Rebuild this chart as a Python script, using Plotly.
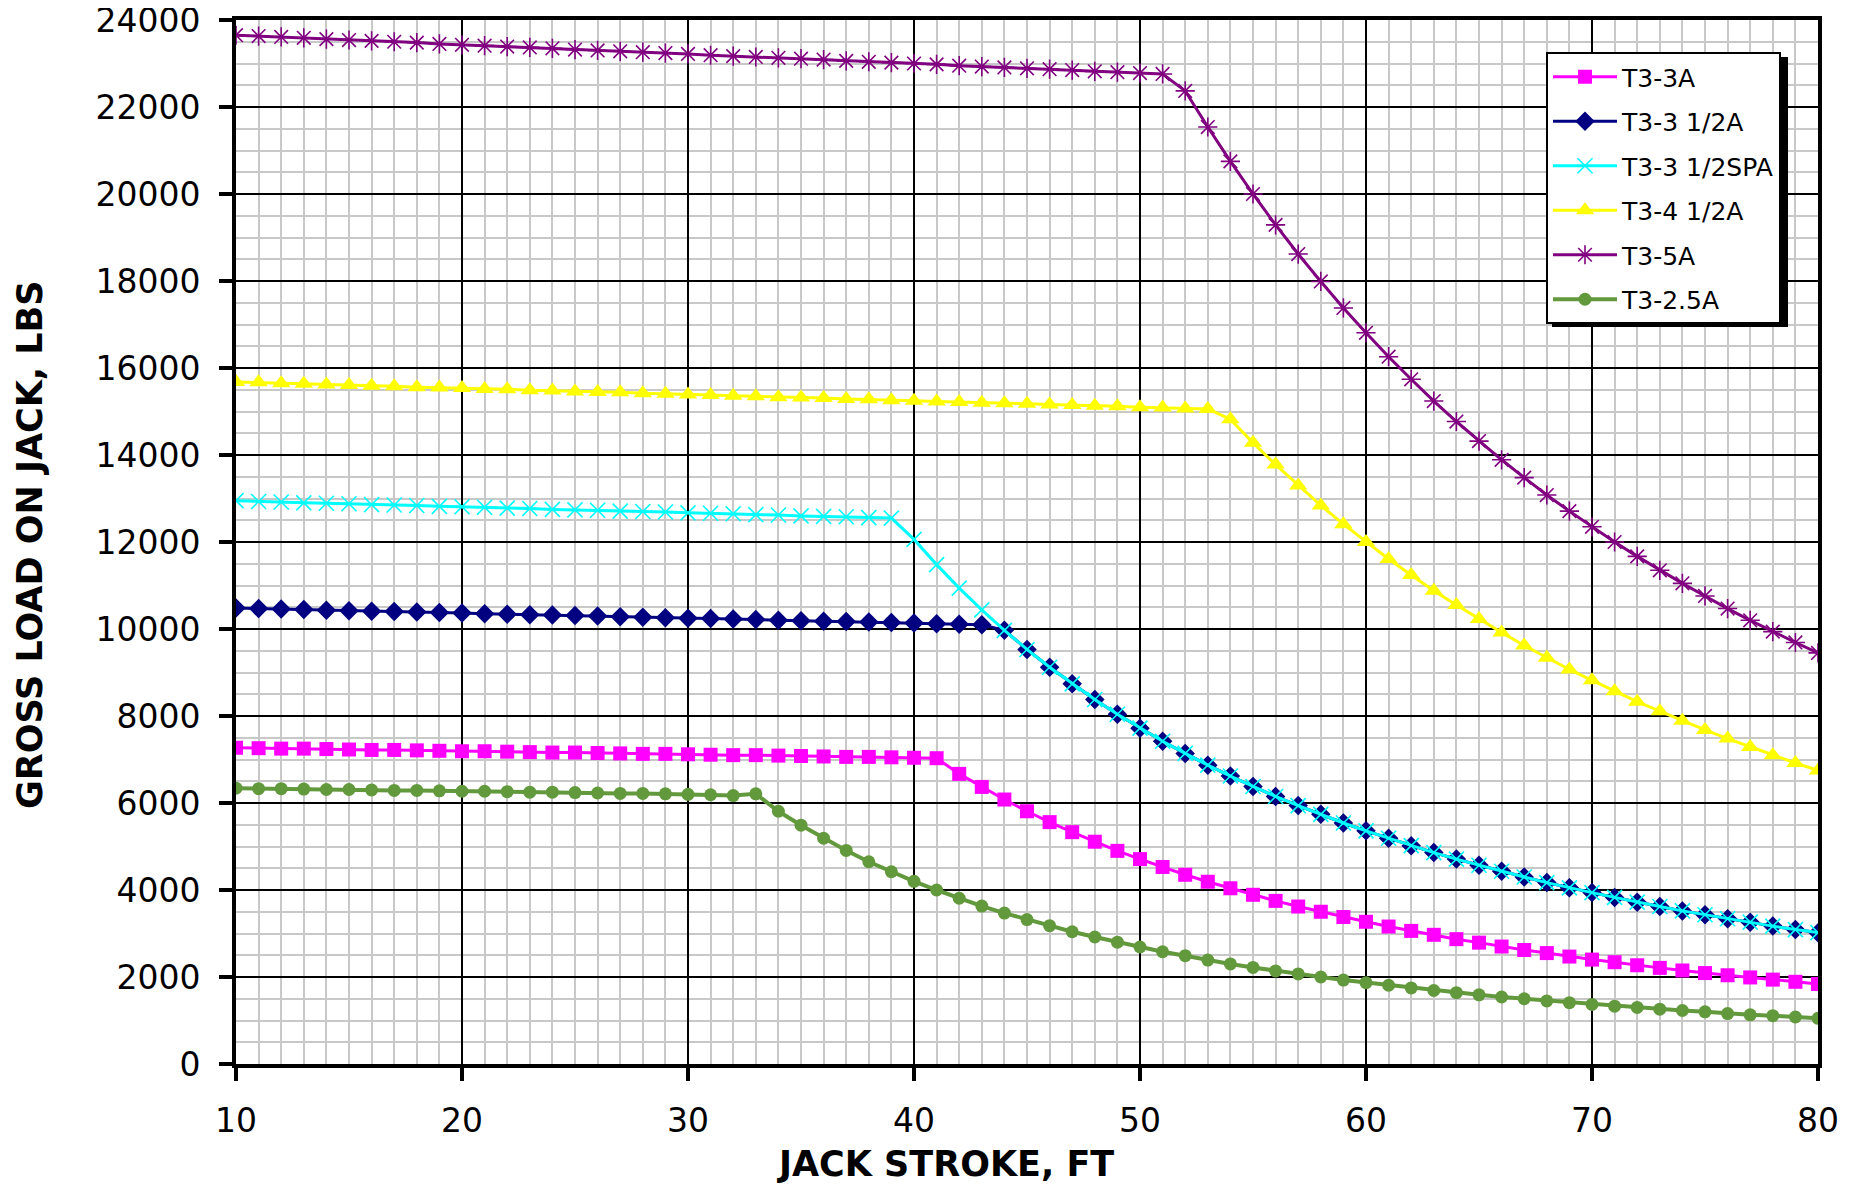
import plotly.graph_objects as go

STROKE_FT = list(range(10, 81))

T3_3A = [7270, 7260, 7250, 7250, 7240, 7230, 7220, 7220, 7210, 7200,
         7190, 7190, 7180, 7170, 7160, 7160, 7150, 7140, 7130, 7130,
         7120, 7110, 7100, 7100, 7090, 7080, 7070, 7060, 7060, 7050,
         7040, 7030,
         6670, 6370, 6080, 5810, 5560, 5330, 5110, 4900, 4710, 4530,
         4350, 4190, 4040, 3890, 3750, 3620, 3500, 3380, 3270, 3160,
         3060, 2970, 2870, 2790, 2700, 2620, 2550, 2470, 2400, 2340,
         2270, 2210, 2150, 2090, 2040, 1990, 1940, 1890, 1840]

T3_3_5A = [10480, 10470, 10460, 10450, 10430, 10420, 10410, 10400, 10390, 10380,
           10370, 10350, 10340, 10330, 10320, 10310, 10300, 10280, 10270, 10260,
           10250, 10240, 10230, 10220, 10200, 10190, 10180, 10170, 10160, 10150,
           10140, 10120, 10110, 10100,
           9970, 9530, 9120, 8740, 8380, 8040, 7720, 7420, 7140, 6870,
           6620, 6380, 6150, 5940, 5740, 5540, 5360, 5190, 5020, 4860,
           4710, 4570, 4430, 4300, 4170, 4050, 3940, 3830, 3720, 3620,
           3520, 3430, 3340, 3260, 3170, 3090, 3020]

T3_3_5SPA = [12950, 12930, 12920, 12900, 12890, 12880, 12860, 12850, 12840, 12820,
             12810, 12800, 12780, 12770, 12750, 12740, 12730, 12710, 12700, 12690,
             12670, 12660, 12650, 12630, 12620, 12600, 12590, 12580, 12560, 12550,
             12060, 11480, 10940, 10440, 9970, 9530, 9120, 8740, 8380, 8040,
             7720, 7420, 7140, 6870, 6620, 6380, 6150, 5940, 5740, 5540,
             5360, 5190, 5020, 4860, 4710, 4570, 4430, 4300, 4170, 4050,
             3940, 3830, 3720, 3620, 3520, 3430, 3340, 3260, 3170, 3090, 3020]

T3_4_5A = [15680, 15670, 15650, 15640, 15620, 15610, 15590, 15580, 15560, 15550,
           15540, 15520, 15510, 15490, 15480, 15460, 15450, 15440, 15420, 15410,
           15390, 15380, 15360, 15350, 15330, 15320, 15310, 15290, 15280, 15260,
           15250, 15230, 15220, 15200, 15190, 15180, 15160, 15150, 15130, 15120,
           15100, 15090, 15070, 15060,
           14820, 14280, 13780, 13300, 12840, 12410, 12000, 11610, 11240, 10880,
           10550, 10230, 9920, 9620, 9340, 9070, 8820, 8570, 8330, 8110,
           7890, 7680, 7480, 7290, 7100, 6920, 6750]

T3_5A = [23650, 23630, 23610, 23590, 23560, 23540, 23520, 23500, 23480, 23450,
         23430, 23410, 23390, 23370, 23350, 23320, 23300, 23280, 23260, 23240,
         23220, 23190, 23170, 23150, 23130, 23110, 23090, 23060, 23040, 23020,
         23000, 22980, 22950, 22930, 22910, 22890, 22870, 22850, 22820, 22800,
         22780, 22760,
         22370, 21540, 20750, 20000, 19290, 18620, 17990, 17380, 16810, 16260,
         15740, 15240, 14770, 14320, 13890, 13480, 13080, 12710, 12350, 12000,
         11670, 11350, 11050, 10760, 10470, 10200, 9940, 9690, 9450]

T3_2_5A = [6340, 6330, 6330, 6320, 6310, 6310, 6300, 6290, 6290, 6280,
           6270, 6270, 6260, 6250, 6250, 6240, 6230, 6220, 6220, 6210,
           6200, 6190, 6170, 6210,
           5810, 5490, 5190, 4910, 4650, 4420, 4200, 4000, 3810, 3630,
           3470, 3320, 3180, 3040, 2920, 2800, 2690, 2580, 2490, 2390,
           2300, 2220, 2140, 2070, 2000, 1930, 1870, 1810, 1750, 1690,
           1640, 1590, 1540, 1500, 1450, 1410, 1370, 1330, 1300, 1260,
           1230, 1200, 1160, 1130, 1110, 1080, 1050]

SERIES_NAMES = ["T3-3A", "T3-3 1/2A", "T3-3 1/2SPA", "T3-4 1/2A", "T3-5A", "T3-2.5A"]
SERIES_VALUES = [T3_3A, T3_3_5A, T3_3_5SPA, T3_4_5A, T3_5A, T3_2_5A]
X_TICKS = [10, 20, 30, 40, 50, 60, 70, 80]
Y_TICKS = list(range(0, 24001, 2000))

styles = [
    dict(color="#FF00FF", symbol="square", size=14, lw=3, open=False),
    dict(color="#000080", symbol="diamond", size=15, lw=3, open=False),
    dict(color="#00FFFF", symbol="x-thin-open", size=15, lw=3, open=True),
    dict(color="#FFFF00", symbol="triangle-up", size=16, lw=3, open=False),
    dict(color="#800080", symbol="asterisk-open", size=16, lw=3, open=True),
    dict(color="#63993D", symbol="circle", size=13, lw=4, open=False),
]

FONT = "DejaVu Sans, Verdana, sans-serif"

fig = go.Figure()
for name, vals, st in zip(SERIES_NAMES, SERIES_VALUES, styles):
    fig.add_trace(go.Scatter(
        x=STROKE_FT, y=vals, name=name, mode="lines+markers",
        legendgroup=name,
        line=dict(color=st["color"], width=st["lw"]),
        marker=dict(symbol=st["symbol"], size=st["size"], color=st["color"],
                    line=dict(color=st["color"], width=1.6 if st["open"] else 0)),
    ))

# the page body adds an 8px offset; figure coordinates = page coordinates - 8
OFF = 8
W, H = 1850, 1178
L, R, T, B = 236 - OFF, W - (1818 - OFF), 20 - OFF, H - (1064 - OFF)
pw, ph = W - L - R, H - T - B

def px_x(p):
    return (p - OFF - L) / pw

def px_y(p):
    return (H - B - (p - OFF)) / ph

fig.update_layout(
    width=W, height=H,
    margin=dict(l=L, r=R, t=T, b=B, autoexpand=False),
    paper_bgcolor="white", plot_bgcolor="white",
    font=dict(family=FONT, color="black"),
    showlegend=True,
    legend=dict(
        x=px_x(1546), y=px_y(52), xanchor="left", yanchor="top",
        bgcolor="white", bordercolor="black", borderwidth=2,
        font=dict(size=25, family=FONT, color="black"),
        tracegroupgap=9, itemwidth=64,
    ),
    xaxis=dict(
        range=[10, 80], tickvals=X_TICKS, ticktext=[str(v) for v in X_TICKS],
        automargin=False, ticklabeloverflow="allow",
        showline=True, linecolor="black", linewidth=4, mirror=True,
        ticks="outside", ticklen=13, tickwidth=4, tickcolor="black",
        tickfont=dict(size=33, family=FONT, color="black"),
        ticklabelstandoff=11,
        showgrid=True, gridcolor="black", gridwidth=2,
        minor=dict(dtick=1, tick0=10, showgrid=True, gridcolor="#C8C8C8", gridwidth=1.5, ticks=""),
        zeroline=False,
    ),
    yaxis=dict(
        range=[0, 24000], tickvals=Y_TICKS, ticktext=[str(v) for v in Y_TICKS],
        automargin=False, ticklabeloverflow="allow",
        showline=True, linecolor="black", linewidth=4, mirror=True,
        ticks="outside", ticklen=13, tickwidth=4, tickcolor="black",
        tickfont=dict(size=33, family=FONT, color="black"),
        ticklabelstandoff=12,
        showgrid=True, gridcolor="black", gridwidth=2,
        minor=dict(dtick=500, tick0=0, showgrid=True, gridcolor="#C8C8C8", gridwidth=1.5, ticks=""),
        zeroline=False,
    ),
    annotations=[
        dict(text="<b>JACK STROKE, FT</b>", xref="paper", yref="paper",
             x=px_x(945), y=px_y(1164), xanchor="center", yanchor="middle",
             showarrow=False, font=dict(size=35, family=FONT, color="black")),
        dict(text="<b>GROSS LOAD ON JACK, LBS</b>", xref="paper", yref="paper",
             x=px_x(30), y=px_y(545), xanchor="center", yanchor="middle",
             textangle=-90, showarrow=False,
             font=dict(size=35, family=FONT, color="black")),
    ],
    shapes=[
        dict(type="rect", xref="paper", yref="paper", layer="above",
             x0=px_x(1552), x1=px_x(1788), y0=px_y(57), y1=px_y(327),
             fillcolor="black", line=dict(width=0)),
    ],
)

fig.write_html("out.html")
